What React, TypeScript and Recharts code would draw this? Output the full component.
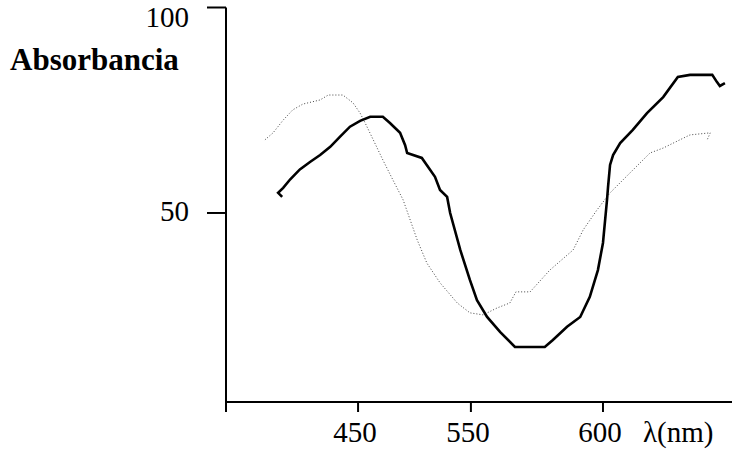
import { LineChart, Line, XAxis, YAxis } from "recharts";

// scan position (0-100 along the drawn axis) and absorbance
const solidPos = [
  11.1, 10.3, 11.3, 12.7, 14.6, 16.6, 18.6, 20.6, 22.5, 24.5, 26.5, 28.5, 31.0,
  32.4, 34.4, 35.4, 35.8, 38.7, 41.3, 42.3, 43.7, 44.3, 46.3, 48.2, 49.6, 51.6,
  54.2, 57.1, 63.0, 64.6, 67.4, 70.0, 71.9, 73.5, 74.5, 75.3, 75.5, 75.9, 76.5,
  77.9, 80.4, 83.2, 86.4, 89.3, 91.7, 96.1, 97.0, 97.6, 98.6,
];
const solidAbs = [
  53.9, 54.9, 56.1, 58.2, 60.6, 62.4, 64.1, 66.1, 68.5, 71.0, 72.4, 73.4, 73.4,
  71.9, 69.5, 66.5, 64.6, 63.4, 58.8, 55.6, 53.9, 50.0, 41.0, 33.7, 28.8, 24.7,
  21.0, 17.4, 17.4, 19.1, 22.3, 24.7, 29.6, 36.1, 42.7, 53.2, 56.3, 61.7, 64.1,
  67.0, 70.2, 74.3, 78.2, 83.1, 83.6, 83.6, 81.9, 80.9, 81.6,
];

const dottedPos = [
  7.7, 9.3, 11.3, 13.2, 15.2, 18.6, 20.2, 23.1, 25.1, 26.5, 27.5, 29.1, 31.0,
  33.0, 35.0, 36.4, 37.8, 39.7, 42.3, 45.7, 48.2, 50.8, 53.6, 56.1, 57.3, 60.1,
  64.0, 68.6, 70.6, 73.3, 75.9, 79.8, 83.8, 86.4, 89.7, 91.7, 95.7, 95.1,
];
const dottedAbs = [
  67.8, 69.5, 72.6, 75.1, 76.5, 77.5, 78.7, 78.7, 76.8, 74.3, 71.9, 67.8, 62.9,
  58.0, 53.2, 48.3, 43.4, 37.8, 33.0, 28.1, 25.7, 25.2, 26.9, 28.1, 30.8, 30.8,
  36.1, 41.0, 45.9, 50.7, 54.9, 59.7, 64.6, 65.8, 67.8, 69.0, 69.5, 67.8,
];

const xTickPos = [0, 26.1, 48.4, 74.5];
const xTickLabels = ["", "450", "550", "600"];
const yTicks = [50, 100];

const solid = solidPos.map((x, i) => ({ x, y: solidAbs[i] }));
const dotted = dottedPos.map((x, i) => ({ x, y: dottedAbs[i] }));

const serif = "'Liberation Serif', 'Times New Roman', serif";

function XTick({ x, y, index }: any) {
  const label = xTickLabels[index];
  if (!label) return null;
  return (
    <text x={x - 3} y={y + 28} textAnchor="middle" fontFamily={serif} fontSize={29} fill="#000">
      {label}
    </text>
  );
}

function YTick({ x, y, payload }: any) {
  // keep the top label inside the picture
  return (
    <text x={x - 16} y={Math.max(y + 8, 27)} textAnchor="end" fontFamily={serif} fontSize={29} fill="#000">
      {payload.value}
    </text>
  );
}

export default function App() {
  return (
    <div style={{ position: "absolute", left: 0, top: 0, background: "#fff" }}>
      <LineChart
        width={732}
        height={450}
        margin={{ top: 7.5, right: 0, bottom: 0, left: 166 }}
      >
        <XAxis
          type="number"
          dataKey="x"
          domain={[0, 100]}
          ticks={xTickPos}
          interval={0}
          height={48}
          stroke="#000"
          strokeWidth={2}
          tickSize={10}
          tick={<XTick />}
          allowDataOverflow
        />
        <YAxis
          type="number"
          dataKey="y"
          domain={[4, 100]}
          ticks={yTicks}
          width={60}
          stroke="#000"
          strokeWidth={2}
          tickSize={19}
          tick={<YTick />}
          allowDataOverflow
        />
        <Line
          data={dotted}
          dataKey="y"
          type="linear"
          stroke="#444"
          strokeWidth={1}
          strokeDasharray="1 2"
          dot={false}
          isAnimationActive={false}
        />
        <Line
          data={solid}
          dataKey="y"
          type="linear"
          stroke="#000"
          strokeWidth={2.6}
          dot={false}
          isAnimationActive={false}
        />
        <text x={10} y={70} fontFamily={serif} fontSize={31} fontWeight="bold" fill="#000">
          Absorbancia
        </text>
        <text x={643} y={442} fontFamily={serif} fontSize={29} fill="#000">
          λ(nm)
        </text>
      </LineChart>
    </div>
  );
}
